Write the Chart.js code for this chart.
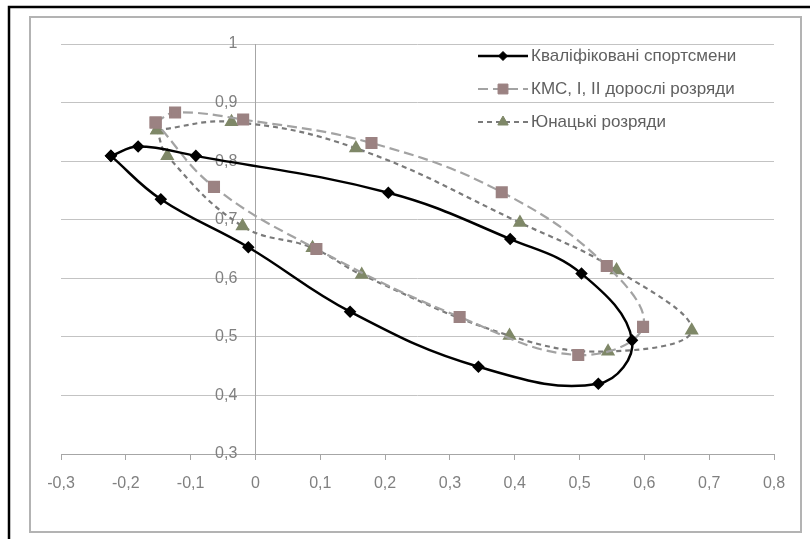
<!DOCTYPE html>
<html>
<head>
<meta charset="utf-8">
<script src="https://cdn.jsdelivr.net/npm/chart.js@4.4.1/dist/chart.umd.min.js"></script>
<style>
  html, body { margin: 0; padding: 0; background: #fff; }
</style>
</head>
<body>
<canvas id="chart" width="810" height="539"></canvas>
<script>
// series names
const seriesNames = ['Кваліфіковані спортсмени', 'КМС, I, II дорослі розряди', 'Юнацькі розряди'];

// Кваліфіковані спортсмени (closed loop, first point repeated)
const qualX = [-0.223, -0.181, -0.092, 0.205, 0.393, 0.503, 0.581, 0.529, 0.344, 0.146, -0.011, -0.146, -0.223];
const qualY = [0.809, 0.825, 0.809, 0.746, 0.667, 0.608, 0.494, 0.420, 0.449, 0.543, 0.653, 0.735, 0.809];

// КМС, I, II дорослі розряди
const kmsX = [-0.154, -0.124, -0.019, 0.179, 0.380, 0.542, 0.598, 0.498, 0.315, 0.094, -0.064, -0.154];
const kmsY = [0.866, 0.883, 0.871, 0.831, 0.747, 0.621, 0.517, 0.469, 0.534, 0.650, 0.756, 0.866];

// Юнацькі розряди
const youthX = [-0.152, -0.037, 0.155, 0.408, 0.557, 0.673, 0.544, 0.392, 0.164, 0.088, -0.020, -0.136, -0.152];
const youthY = [0.853, 0.867, 0.822, 0.695, 0.614, 0.511, 0.475, 0.502, 0.606, 0.652, 0.689, 0.809, 0.853];

// axis ranges
const xRange = [-0.3, 0.8];
const yRange = [0.3, 1];
const tickStep = 0.1;

const fontFamily = "'Liberation Sans', Arial, sans-serif";
Chart.defaults.font.family = fontFamily;

function toPoints(xs, ys) {
	return xs.map(function(x, i) { return {x: x, y: ys[i]}; });
}

function fmt(v) {
	return (Math.round(v * 10) / 10).toString().replace('.', ',');
}

// page frame: cropped black border + gray chart border
const framePlugin = {
	id: 'frame',
	beforeDraw(chart) {
		const ctx = chart.ctx;
		ctx.save();
		ctx.fillStyle = '#fff';
		ctx.fillRect(0, 0, chart.width, chart.height);
		ctx.strokeStyle = '#000';
		ctx.lineWidth = 2.5;
		ctx.beginPath();
		ctx.moveTo(9, chart.height);
		ctx.lineTo(9, 7);
		ctx.lineTo(chart.width, 7);
		ctx.stroke();
		ctx.strokeStyle = '#b3b3b3';
		ctx.lineWidth = 2;
		ctx.strokeRect(30, 17, 771, 515);
		ctx.restore();
	}
};

// legend drawn inside the plot area, top right
const insideLegend = {
	id: 'insideLegend',
	afterDatasetsDraw(chart) {
		const ctx = chart.ctx;
		const area = chart.chartArea;
		const x0 = area.right - 296;
		let y = area.top + 12;

		chart.data.datasets.forEach(function(ds) {
			ctx.save();
			ctx.strokeStyle = ds.borderColor;
			ctx.lineWidth = ds.borderWidth;
			ctx.setLineDash(ds.borderDash || []);
			ctx.beginPath();
			ctx.moveTo(x0, y);
			ctx.lineTo(x0 + 50, y);
			ctx.stroke();
			ctx.setLineDash([]);

			ctx.fillStyle = ds.pointBackgroundColor;
			ctx.strokeStyle = ds.pointBorderColor;
			ctx.lineWidth = 1;
			Chart.helpers.drawPoint(ctx, {
				pointStyle: ds.pointStyle,
				radius: ds.pointRadius,
				borderWidth: 1,
				rotation: 0
			}, x0 + 25, y);

			ctx.fillStyle = '#606060';
			ctx.font = '17px ' + fontFamily;
			ctx.textBaseline = 'middle';
			ctx.textAlign = 'left';
			ctx.fillText(ds.label, x0 + 53, y);
			ctx.restore();

			y += 33;
		});
	}
};

const config = {
	type: 'scatter',
	data: {
		datasets: [
			{
				label: seriesNames[0],
				data: toPoints(qualX, qualY),
				showLine: true,
				tension: 0.4,
				borderColor: '#000',
				borderWidth: 2.5,
				pointStyle: 'rectRot',
				pointRadius: 4.5,
				pointBackgroundColor: '#000',
				pointBorderColor: '#000',
			},
			{
				label: seriesNames[1],
				data: toPoints(kmsX, kmsY),
				showLine: true,
				tension: 0.4,
				borderColor: '#a3a3a3',
				borderWidth: 2.2,
				borderDash: [10, 5],
				pointStyle: 'rect',
				pointRadius: 7,
				pointBackgroundColor: '#9b8282',
				pointBorderColor: '#9b8282',
			},
			{
				label: seriesNames[2],
				data: toPoints(youthX, youthY),
				showLine: true,
				tension: 0.4,
				borderColor: '#7a7a7a',
				borderWidth: 2.2,
				borderDash: [5, 4],
				pointStyle: 'triangle',
				pointRadius: 6,
				pointBackgroundColor: '#7f8868',
				pointBorderColor: '#7f8868',
			}
		]
	},
	options: {
		responsive: false,
		animation: false,
		layout: {
			padding: {left: 61, right: 36, top: 44, bottom: 45}
		},
		plugins: {
			legend: {display: false},
			tooltip: {enabled: false},
		},
		scales: {
			x: {
				type: 'linear',
				min: xRange[0],
				max: xRange[1],
				ticks: {
					stepSize: tickStep,
					callback: fmt,
					color: '#808080',
					font: {size: 16},
					padding: 14,
					maxRotation: 0,
					autoSkip: false,
				},
				grid: {
					drawOnChartArea: false,
					drawTicks: true,
					tickLength: 6,
					color: '#a6a6a6',
				},
				border: {color: '#a6a6a6', width: 1},
				afterFit: function(scale) {
					scale.height = 40;
				},
			},
			// value axis crossing at x = 0: grid lines and axis line
			y: {
				type: 'linear',
				position: {x: 0},
				min: yRange[0],
				max: yRange[1],
				ticks: {
					stepSize: tickStep,
					display: false,
				},
				grid: {
					color: '#c3c3c3',
					drawTicks: false,
				},
				border: {color: '#a6a6a6', width: 1},
			},
			// tick labels of the value axis, set a little left of the axis line
			yLabels: {
				type: 'linear',
				axis: 'y',
				position: {x: -0.028},
				min: yRange[0],
				max: yRange[1],
				ticks: {
					stepSize: tickStep,
					callback: fmt,
					color: '#808080',
					font: {size: 16},
				},
				grid: {display: false, drawTicks: false},
				border: {display: false},
			},
		},
	},
	plugins: [framePlugin, insideLegend],
};

new Chart(document.getElementById('chart').getContext('2d'), config);
</script>
</body>
</html>
